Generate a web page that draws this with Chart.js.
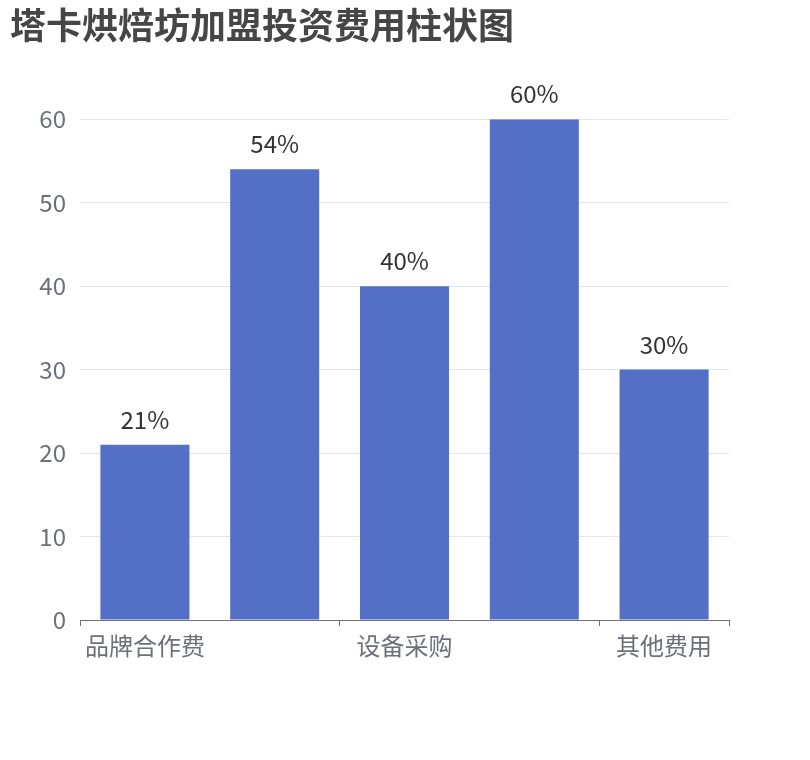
<!DOCTYPE html>
<html>
<head>
<meta charset="utf-8">
<script src="https://cdn.jsdelivr.net/npm/chart.js@4"></script>
<style>
  html, body { margin: 0; padding: 0; background: #fff; }
  #wrap { width: 810px; height: 760px; }
</style>
</head>
<body>
<div id="wrap"><canvas id="barChart"></canvas></div>
<script>
// chart data
const categories = ['品牌合作费', '店面装修费', '设备采购', '首批原料费', '其他费用'];   // x-axis categories (2nd, 4th labels hidden)
const costValues = [21, 54, 40, 60, 30];                                            // bar heights
const valueLabels = ['21%', '54%', '40%', '60%', '30%'];                           // labels above bars
const yTicks = [0, 10, 20, 30, 40, 50, 60];                                         // y-axis tick values

const fontFamily = '"Noto Sans CJK SC", "Noto Sans", sans-serif';

// draw the percent labels above each bar
const barLabels = {
    id: 'barLabels',
    afterDatasetsDraw(chart) {
        const ctx = chart.ctx;
        const meta = chart.getDatasetMeta(0);
        ctx.save();
        ctx.font = '24px ' + fontFamily;
        ctx.fillStyle = '#333333';
        ctx.textAlign = 'center';
        ctx.textBaseline = 'alphabetic';
        meta.data.forEach((bar, i) => {
            ctx.fillText(valueLabels[i], bar.x, bar.y - 16);
        });
        ctx.restore();
    }
};

const myChart = new Chart(document.getElementById('barChart'), {
    type: 'bar',
    data: {
        labels: categories,
        datasets: [{
            data: costValues,
            backgroundColor: '#5470c6',
            barPercentage: 0.686,
            categoryPercentage: 1
        }]
    },
    options: {
        responsive: true,
        maintainAspectRatio: false,
        animation: false,
        layout: {
            padding: { left: 10, right: 81, top: 0, bottom: 0 }
        },
        scales: {
            x: {
                afterFit: s => { s.height = 140; },
                grid: {
                    offset: true,
                    drawOnChartArea: false,
                    tickLength: 6,
                    color: c => (c.index === undefined || c.index % 2 === 0) ? '#6e7079' : 'rgba(0,0,0,0)'
                },
                border: { color: '#6e7079', width: 1 },
                ticks: {
                    autoSkip: false,
                    maxRotation: 0,
                    padding: 5,
                    color: '#6e7079',
                    font: { size: 24, family: fontFamily },
                    callback: function(val, index) {
                        return index % 2 === 0 ? this.getLabelForValue(val) : '';
                    }
                }
            },
            y: {
                min: 0,
                max: 60,
                afterFit: s => { s.width = 70; },
                afterBuildTicks: s => { s.ticks = yTicks.map(v => ({ value: v })); },
                grid: { color: '#e0e6f1', drawTicks: false },
                border: { display: false },
                ticks: {
                    padding: 14,
                    color: '#6e7079',
                    font: { size: 24, family: fontFamily }
                }
            }
        },
        plugins: {
            legend: { display: false },
            tooltip: { enabled: false },
            title: {
                display: true,
                text: '塔卡烘焙坊加盟投资费用柱状图',
                align: 'start',
                color: '#464646',
                font: { size: 36, weight: 'bold', family: fontFamily },
                padding: { top: 4, bottom: 72 }
            }
        }
    },
    plugins: [barLabels]
});
</script>
</body>
</html>
